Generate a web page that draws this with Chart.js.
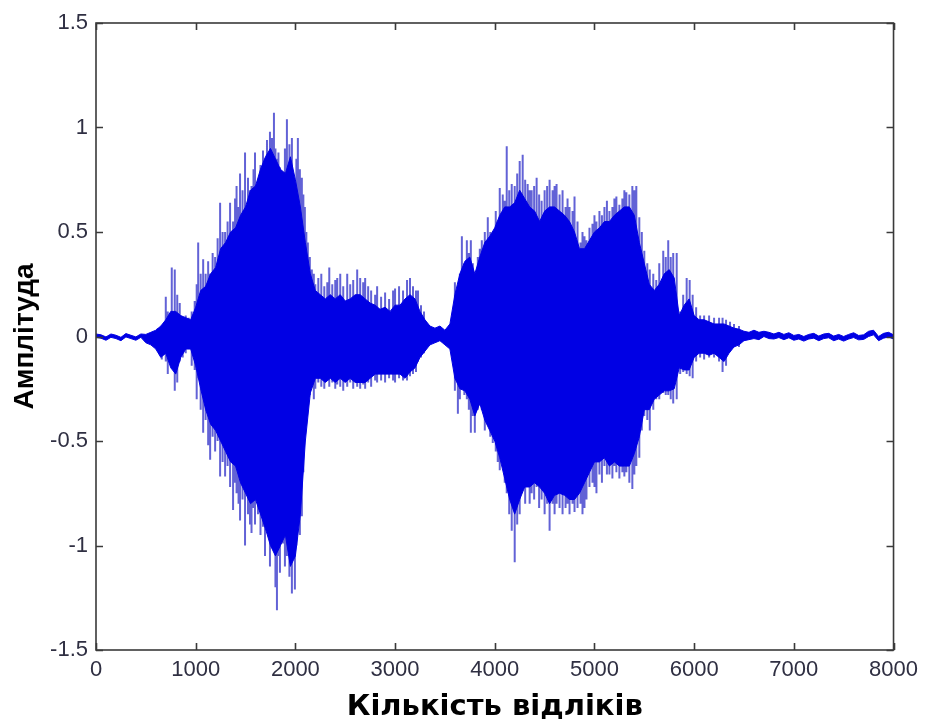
<!DOCTYPE html>
<html>
<head>
<meta charset="utf-8">
<script src="https://cdn.jsdelivr.net/npm/chart.js@4.4.1/dist/chart.umd.min.js"></script>
<style>
  html, body { margin: 0; padding: 0; background: #ffffff; }
  canvas { display: block; }
</style>
</head>
<body>
<canvas id="c" width="925" height="726"></canvas>
<script>
// ---- data ----
const xTitle = 'Кількість відліків';
const yTitle = 'Амплітуда';
const xTickValues = [0, 1000, 2000, 3000, 4000, 5000, 6000, 7000, 8000];
const yTickValues = [-1.5, -1, -0.5, 0, 0.5, 1, 1.5];

// sample positions of the dense waveform envelope
const samples = [
  0,50,100,150,200,250,300,350,400,450,
  500,550,600,650,700,750,800,850,900,950,
  1000,1050,1100,1150,1200,1250,1300,1350,1400,1450,
  1500,1550,1600,1650,1700,1750,1800,1850,1900,1950,
  2000,2050,2100,2150,2200,2250,2300,2350,2400,2450,
  2500,2550,2600,2650,2700,2750,2800,2850,2900,2950,
  3000,3050,3100,3150,3200,3250,3300,3350,3400,3450,
  3500,3550,3600,3650,3700,3750,3800,3850,3900,3950,
  4000,4050,4100,4150,4200,4250,4300,4350,4400,4450,
  4500,4550,4600,4650,4700,4750,4800,4850,4900,4950,
  5000,5050,5100,5150,5200,5250,5300,5350,5400,5450,
  5500,5550,5600,5650,5700,5750,5800,5850,5900,5950,
  6000,6050,6100,6150,6200,6250,6300,6350,6400,6450,
  6500,6550,6600,6650,6700,6750,6800,6850,6900,6950,
  7000,7050,7100,7150,7200,7250,7300,7350,7400,7450,
  7500,7550,7600,7650,7700,7750,7800,7850,7900,7950,
  8000
];
// upper edge of the dense (solid) part of the waveform
const envelopeTop = [
  0.012,0.008,-0.002,0.012,0.006,-0.004,0.014,0.006,-0.002,0.012,
  0.01,0.02,0.03,0.05,0.08,0.12,0.12,0.1,0.09,0.08,
  0.14,0.22,0.24,0.3,0.33,0.42,0.45,0.5,0.52,0.58,
  0.62,0.7,0.72,0.8,0.86,0.9,0.85,0.8,0.78,0.86,
  0.75,0.62,0.45,0.3,0.22,0.2,0.18,0.2,0.18,0.2,
  0.17,0.18,0.2,0.2,0.18,0.16,0.15,0.13,0.14,0.12,
  0.15,0.15,0.18,0.2,0.18,0.12,0.08,0.05,0.04,0.05,
  0.03,0.06,0.2,0.3,0.36,0.38,0.3,0.38,0.45,0.48,
  0.52,0.58,0.62,0.62,0.64,0.7,0.66,0.62,0.6,0.55,
  0.6,0.62,0.62,0.6,0.58,0.55,0.5,0.42,0.42,0.46,
  0.5,0.52,0.55,0.55,0.58,0.6,0.62,0.62,0.58,0.45,
  0.35,0.25,0.22,0.25,0.3,0.32,0.28,0.1,0.15,0.18,
  0.1,0.08,0.08,0.07,0.06,0.06,0.06,0.05,0.04,0.035,
  0.025,0.02,0.03,0.02,0.025,0.02,0.012,0.02,0.01,0.018,
  0.005,0.01,0.0,0.01,0.015,0.002,0.012,0.015,0.002,0.01,
  0.0,0.01,0.018,0.005,0.008,0.025,0.03,0.0,0.015,0.02,
  0.008
];
// lower edge of the dense (solid) part of the waveform
const envelopeBottom = [
  -0.004,-0.008,-0.018,-0.004,-0.01,-0.02,-0.002,-0.01,-0.018,-0.004,
  -0.03,-0.04,-0.06,-0.1,-0.08,-0.15,-0.18,-0.1,-0.06,-0.06,
  -0.14,-0.25,-0.35,-0.42,-0.45,-0.5,-0.55,-0.6,-0.62,-0.7,
  -0.75,-0.8,-0.78,-0.85,-0.92,-1.0,-1.05,-1.0,-0.95,-1.1,
  -1.05,-0.85,-0.5,-0.27,-0.2,-0.2,-0.22,-0.2,-0.22,-0.2,
  -0.22,-0.2,-0.22,-0.22,-0.22,-0.2,-0.18,-0.18,-0.18,-0.18,
  -0.18,-0.18,-0.2,-0.17,-0.15,-0.1,-0.07,-0.04,-0.03,-0.02,
  -0.04,-0.06,-0.2,-0.25,-0.26,-0.3,-0.38,-0.32,-0.4,-0.45,
  -0.5,-0.58,-0.68,-0.78,-0.85,-0.78,-0.72,-0.72,-0.7,-0.72,
  -0.75,-0.8,-0.76,-0.75,-0.76,-0.78,-0.78,-0.75,-0.7,-0.65,
  -0.6,-0.6,-0.58,-0.62,-0.6,-0.62,-0.62,-0.62,-0.56,-0.48,
  -0.35,-0.35,-0.3,-0.28,-0.26,-0.26,-0.25,-0.15,-0.16,-0.16,
  -0.1,-0.08,-0.08,-0.09,-0.08,-0.1,-0.12,-0.08,-0.05,-0.04,
  -0.02,-0.015,-0.01,-0.015,0.0,-0.01,-0.012,-0.005,-0.015,-0.006,
  -0.018,-0.012,-0.022,-0.012,-0.008,-0.02,-0.01,-0.006,-0.02,-0.012,
  -0.022,-0.012,-0.005,-0.016,-0.014,0.0,0.008,-0.02,-0.008,-0.002,
  -0.012
];

// thin vertical strokes sticking out of the solid part
const spikeX = [
  620,660,700,720,760,790,815,840,870,900,930,960,990,
  1010,1025,1050,1075,1100,1125,1145,1170,1195,1220,1245,1270,1295,1320,1345,1375,1395,1410,1430,1445,1470,1495,1525,1545,
  1560,1580,1595,1625,1650,1675,1695,1715,1745,1765,1785,1800,1815,1830,1845,1875,1895,1915,1940,1965,1995,2010,2025,2045,2065,2080,2095,2110,2125,2145,2165,2185,2200,
  2230,2260,2290,2320,2340,2370,2400,2420,2450,2480,2520,2550,2580,2620,2650,2680,2700,2730,2760,2800,2820,2860,2900,2940,2980,3000,3040,3080,3120,3150,3180,3210,3230,3260,3290,
  3580,3600,3615,3630,3650,3670,3695,3720,3740,3760,3780,3800,3830,3850,3870,3900,3930,3955,3980,
  4010,4030,4050,4080,4100,4120,4145,4170,4200,4225,4250,4280,4305,4330,4350,4370,4395,4420,4445,4470,4500,4525,4550,4580,4600,4620,4650,4680,4710,4730,4750,4780,4800,4830,
  4860,4880,4900,4920,4950,4980,5000,5020,5050,5075,5100,5125,5150,5180,5200,5220,5250,5280,5300,5320,5350,5380,5400,5420,5450,5475,5500,5530,5555,5590,5620,5650,5690,5715,5740,5765,5790,5825,5860,5890,5925,5955,5985,
  6020,6060,6100,6150,6200,6250,6285,6320,6360,6400,6450
];
const spikeTop = [
  0.04,0.05,0.19,0.12,0.33,0.32,0.2,0.16,0.08,0.1,0.09,0.12,0.17,
  0.25,0.45,0.3,0.37,0.3,0.36,0.3,0.4,0.38,0.47,0.64,0.5,0.5,0.55,0.64,0.55,0.66,0.72,0.62,0.78,0.7,0.88,0.76,0.7,
  0.72,0.8,0.88,0.75,0.82,0.89,0.85,0.94,0.98,0.95,1.07,0.9,0.85,0.88,0.81,0.78,0.9,1.04,0.92,0.95,0.72,0.85,0.95,0.8,0.76,0.68,0.62,0.5,0.45,0.38,0.32,0.3,0.25,
  0.28,0.3,0.24,0.26,0.33,0.25,0.27,0.28,0.3,0.24,0.3,0.25,0.27,0.32,0.28,0.26,0.28,0.24,0.22,0.2,0.24,0.19,0.21,0.18,0.22,0.23,0.24,0.22,0.27,0.28,0.24,0.22,0.22,0.15,0.12,
  0.1,0.26,0.22,0.2,0.3,0.48,0.35,0.46,0.4,0.46,0.35,0.3,0.38,0.42,0.46,0.5,0.57,0.5,0.45,
  0.6,0.55,0.71,0.68,0.65,0.91,0.7,0.73,0.72,0.78,0.84,0.87,0.75,0.73,0.7,0.7,0.72,0.76,0.68,0.65,0.7,0.72,0.75,0.7,0.72,0.73,0.68,0.7,0.62,0.66,0.62,0.6,0.67,0.55,
  0.45,0.5,0.48,0.46,0.52,0.54,0.58,0.55,0.6,0.58,0.62,0.65,0.6,0.62,0.66,0.67,0.63,0.66,0.7,0.69,0.68,0.72,0.7,0.72,0.57,0.5,0.41,0.35,0.32,0.3,0.27,0.35,0.41,0.38,0.46,0.38,0.4,0.4,0.12,0.2,0.28,0.27,0.2,
  0.14,0.1,0.1,0.1,0.09,0.09,0.09,0.08,0.07,0.06,0.05
];
const spikeBottom = [
  -0.07,-0.11,-0.12,-0.18,-0.08,-0.26,-0.22,-0.12,-0.1,-0.08,-0.06,-0.14,-0.16,
  -0.3,-0.2,-0.35,-0.46,-0.4,-0.52,-0.59,-0.48,-0.55,-0.5,-0.67,-0.6,-0.67,-0.62,-0.72,-0.83,-0.7,-0.75,-0.8,-0.88,-0.78,-1.0,-0.85,-0.9,
  -0.94,-0.82,-0.9,-0.85,-0.95,-0.91,-1.05,-0.88,-1.1,-1.0,-0.95,-1.2,-1.31,-1.05,-1.13,-0.99,-1.1,-1.05,-1.15,-1.23,-1.21,-1.0,-0.9,-0.95,-0.86,-0.65,-0.43,-0.35,-0.3,-0.28,-0.22,-0.3,-0.25,
  -0.22,-0.24,-0.25,-0.21,-0.24,-0.22,-0.25,-0.23,-0.24,-0.26,-0.24,-0.22,-0.25,-0.24,-0.25,-0.23,-0.25,-0.22,-0.24,-0.21,-0.22,-0.21,-0.22,-0.2,-0.21,-0.22,-0.2,-0.21,-0.21,-0.19,-0.18,-0.17,-0.12,-0.1,-0.08,
  -0.1,-0.26,-0.2,-0.37,-0.3,-0.25,-0.28,-0.3,-0.35,-0.46,-0.38,-0.46,-0.35,-0.33,-0.35,-0.45,-0.42,-0.48,-0.51,
  -0.55,-0.6,-0.64,-0.6,-0.7,-0.75,-0.85,-0.93,-1.08,-0.9,-0.85,-0.7,-0.8,-0.72,-0.8,-0.75,-0.78,-0.72,-0.82,-0.78,-0.85,-0.8,-0.93,-0.8,-0.85,-0.8,-0.82,-0.85,-0.82,-0.8,-0.85,-0.8,-0.84,-0.82,
  -0.8,-0.85,-0.82,-0.78,-0.72,-0.7,-0.72,-0.75,-0.66,-0.7,-0.62,-0.66,-0.66,-0.68,-0.62,-0.65,-0.68,-0.65,-0.67,-0.65,-0.7,-0.73,-0.66,-0.62,-0.58,-0.45,-0.38,-0.4,-0.45,-0.35,-0.3,-0.3,-0.27,-0.28,-0.28,-0.3,-0.32,-0.3,-0.18,-0.17,-0.18,-0.19,-0.2,
  -0.12,-0.1,-0.11,-0.1,-0.1,-0.12,-0.17,-0.14,-0.06,-0.05,-0.05
];

// ---- build library tables ----
const topPoints = samples.map((s, i) => ({ x: s, y: envelopeTop[i] }));
const bottomPoints = samples.map((s, i) => ({ x: s, y: envelopeBottom[i] }));
const spikePoints = [];
spikeX.forEach((s, i) => {
  spikePoints.push({ x: s, y: spikeBottom[i] });
  spikePoints.push({ x: s, y: spikeTop[i] });
  spikePoints.push({ x: s, y: null });
});

const BLUE = '#0000e4';
const AXIS = '#3a3a3a';
const TEXT = '#2f2f42';
const FONT = 'Arial, "Liberation Sans", sans-serif';

const framePlugin = {
  id: 'matlabFrame',
  afterDatasetsDraw(chart) {
    const { ctx, chartArea: a, scales } = chart;
    const xs = scales.x, ys = scales.y;
    ctx.save();
    ctx.strokeStyle = AXIS;
    ctx.lineWidth = 1.6;
    ctx.strokeRect(a.left, a.top, a.right - a.left, a.bottom - a.top);
    ctx.beginPath();
    const tl = 7;
    xTickValues.forEach(v => {
      const px = Math.round(xs.getPixelForValue(v)) + 0.5;
      ctx.moveTo(px, a.bottom); ctx.lineTo(px, a.bottom - tl);
      ctx.moveTo(px, a.top); ctx.lineTo(px, a.top + tl);
    });
    yTickValues.forEach(v => {
      const py = Math.round(ys.getPixelForValue(v)) + 0.5;
      ctx.moveTo(a.left, py); ctx.lineTo(a.left + tl, py);
      ctx.moveTo(a.right, py); ctx.lineTo(a.right - tl, py);
    });
    ctx.stroke();
    ctx.restore();
  }
};

new Chart(document.getElementById('c'), {
  type: 'line',
  data: {
    datasets: [
      {
        label: 'top',
        data: topPoints,
        borderColor: BLUE,
        backgroundColor: BLUE,
        borderWidth: 1,
        pointRadius: 0,
        tension: 0,
        fill: '+1',
        order: 1
      },
      {
        label: 'bottom',
        data: bottomPoints,
        borderColor: BLUE,
        backgroundColor: BLUE,
        borderWidth: 1,
        pointRadius: 0,
        tension: 0,
        fill: false,
        order: 1
      },
      {
        label: 'spikes',
        data: spikePoints,
        borderColor: '#6262d6',
        borderWidth: 2,
        pointRadius: 0,
        tension: 0,
        fill: false,
        spanGaps: false,
        order: 2
      }
    ]
  },
  options: {
    responsive: false,
    animation: false,
    devicePixelRatio: 1,
    layout: { padding: { top: 23, right: 31, left: 0, bottom: 0 } },
    plugins: {
      legend: { display: false },
      tooltip: { enabled: false }
    },
    scales: {
      x: {
        type: 'linear',
        min: 0,
        max: 8000,
        afterBuildTicks: (scale) => { scale.ticks = xTickValues.map(v => ({ value: v })); },
        grid: { display: false, drawTicks: false },
        border: { display: false },
        ticks: { color: TEXT, font: { family: FONT, size: 22 }, padding: 7, maxRotation: 0, autoSkip: false,
                 callback: (v) => String(v) },
        title: { display: true, text: xTitle, color: '#000', font: { family: '"DejaVu Sans", Arial, sans-serif', size: 29, weight: 'bold' }, padding: { top: 0, bottom: 1 } },
        afterFit: (scale) => { scale.height = 76; }
      },
      y: {
        type: 'linear',
        min: -1.5,
        max: 1.5,
        afterBuildTicks: (scale) => { scale.ticks = yTickValues.map(v => ({ value: v })); },
        grid: { display: false, drawTicks: false },
        border: { display: false },
        ticks: { color: TEXT, font: { family: FONT, size: 22 }, padding: 8, autoSkip: false,
                 callback: (v) => String(v) },
        title: { display: true, text: yTitle, color: '#000', font: { family: FONT, size: 28, weight: 'bold' }, padding: { top: 8, bottom: 0 } },
        afterFit: (scale) => { scale.width = 96; }
      }
    }
  },
  plugins: [framePlugin]
});
</script>
</body>
</html>
